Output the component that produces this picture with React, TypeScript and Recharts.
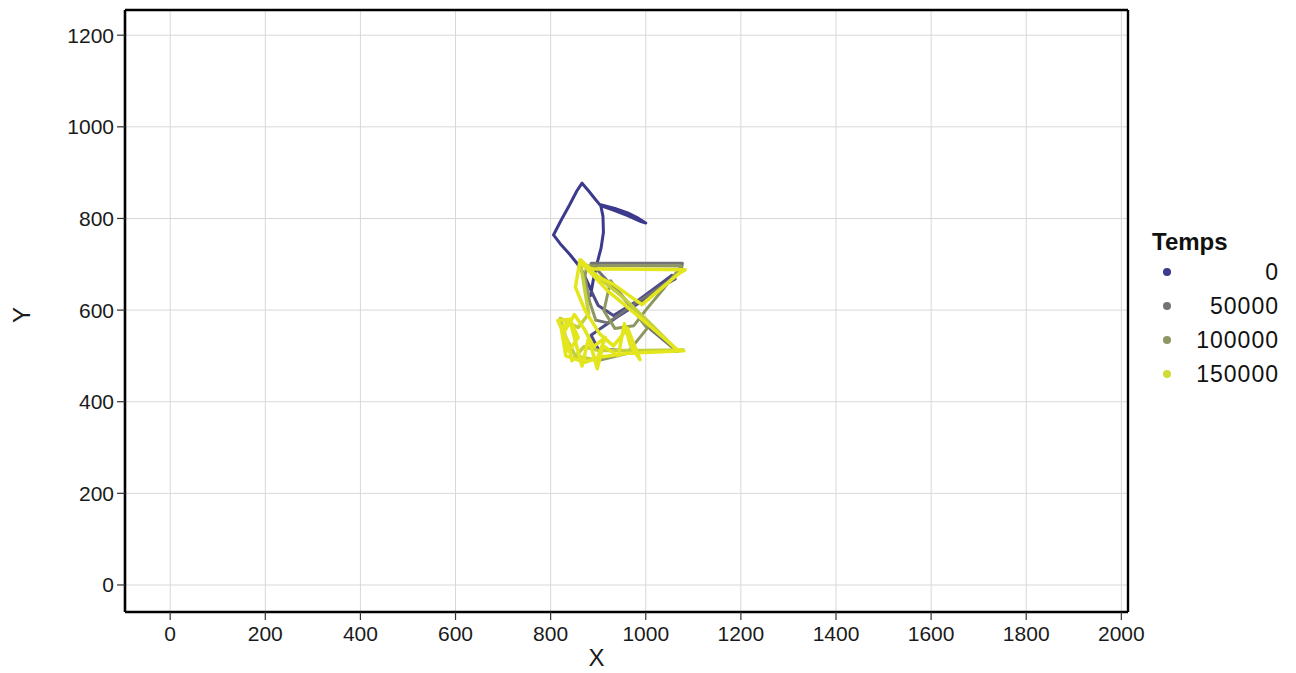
import React from 'react';
import { ComposedChart, Line, XAxis, YAxis, CartesianGrid } from 'recharts';

const xTicks = [0, 200, 400, 600, 800, 1000, 1200, 1400, 1600, 1800, 2000];
const yTicks = [0, 200, 400, 600, 800, 1000, 1200];
const xDomain: [number, number] = [-95, 2014];
const yDomain: [number, number] = [-59, 1255];

const tempsLabels = ['0', '50000', '100000', '150000'];
const tempsColors = ['#3d3b8c', '#737373', '#8d9763', '#cfdc35'];

const segmentColors = ['#3c3a8d', '#4d4c86', '#727276', '#8e975f', '#c3cf3c', '#e3e61c'];

const path0: [number, number][] = [
  [884, 632], [889, 662], [897, 700], [906, 735], [911, 770], [910, 805], [905, 830],
  [935, 822], [962, 812], [985, 800], [1000, 790], [990, 793], [962, 806], [932, 818], [905, 828],
  [893, 843], [880, 860], [866, 877], [855, 860], [840, 830], [822, 796], [806, 764], [820, 745],
  [840, 722], [857, 700], [870, 678], [880, 655], [886, 640],
];
const path1: [number, number][] = [
  [886, 640], [900, 610], [932, 588], [985, 622], [1037, 662], [1055, 676], [1062, 668], [1045, 658],
  [1000, 625], [940, 585], [905, 560], [885, 545], [900, 515], [960, 511], [1010, 510], [1066, 510],
];
const path2: [number, number][] = [
  [1066, 510], [1010, 558], [950, 630], [905, 680], [885, 702], [980, 702], [1077, 702],
  [1075, 690], [1060, 672], [1040, 657], [960, 602], [920, 572], [895, 578],
];
const path3: [number, number][] = [
  [895, 578], [882, 618], [872, 672], [876, 697], [980, 697], [1075, 696], [1040, 650], [1000, 600],
  [975, 566], [935, 560], [912, 598], [926, 664], [965, 612], [1003, 560], [960, 505], [900, 490],
];
const path4: [number, number][] = [
  [900, 490], [852, 500], [832, 540], [820, 582], [858, 562], [880, 592], [862, 708], [900, 672],
  [952, 628], [1010, 570], [1066, 512], [1079, 513], [990, 512], [900, 512], [870, 520], [845, 490],
];
const path5: [number, number][] = [
  [845, 490], [835, 532], [815, 577], [840, 580], [855, 520], [866, 478], [880, 540], [898, 472],
  [910, 522], [942, 500], [955, 570], [968, 522], [988, 492], [962, 560], [932, 522], [903, 548],
  [872, 600], [852, 650], [862, 710], [884, 690], [990, 689], [1083, 688], [1070, 680], [992, 612],
  [932, 656], [900, 672], [864, 704], [920, 642], [990, 582], [1066, 514], [1080, 511], [962, 506],
  [902, 497], [872, 486], [832, 500], [822, 562], [842, 576], [858, 540], [838, 510], [826, 548],
  [850, 590], [870, 560], [890, 520], [915, 540], [900, 500],
];

const segments = [path0, path1, path2, path3, path4, path5].map((p) => p.map(([x, y]) => ({ x, y })));

const FONT = '"Liberation Sans", Arial, Helvetica, sans-serif';

const LegendBox = () => (
  <div style={{ position: 'absolute', left: 1145, top: 230, fontFamily: FONT, width: 134, color: '#111' }}>
    <div style={{ fontWeight: 'bold', fontSize: 24, lineHeight: '24px', height: 24, paddingLeft: 7 }}>Temps</div>
    <div style={{ height: 1 }} />
    {tempsLabels.map((lab, i) => (
      <div key={lab} style={{ display: 'flex', alignItems: 'center', height: 34 }}>
        <div
          style={{
            marginLeft: 18,
            width: 8,
            height: 8,
            borderRadius: 4,
            background: tempsColors[i],
            flex: 'none',
          }}
        />
        <div style={{ flex: 1, textAlign: 'right', fontSize: 23, letterSpacing: 1, lineHeight: '34px' }}>{lab}</div>
      </div>
    ))}
  </div>
);

export default function App() {
  return (
    <div style={{ position: 'absolute', left: 0, top: 0, width: 1296, height: 673, background: '#fff' }}>
      <ComposedChart width={1296} height={673} margin={{ top: 9, right: 167, bottom: 0, left: 0 }}>
        <CartesianGrid stroke="#d8d8d8" strokeWidth={1} />
        <XAxis
          dataKey="x"
          type="number"
          domain={xDomain}
          allowDataOverflow
          ticks={xTicks}
          height={61}
          tickSize={8}
          tickMargin={6}
          tick={{ fill: '#1a1a1a', fontSize: 21, fontFamily: FONT }}
          tickLine={{ stroke: '#333', strokeWidth: 1.2 }}
          axisLine={{ stroke: '#000', strokeWidth: 2.6 }}
          label={{
            content: (props: any) => {
              const vb = props.viewBox;
              return (
                <text x={vb.x + vb.width * 0.47} y={vb.y + 54} textAnchor="middle" fontSize={24} fontFamily={FONT} fill="#1a1a1a">
                  X
                </text>
              );
            },
          }}
        />
        <XAxis
          xAxisId="top"
          orientation="top"
          type="number"
          dataKey="x"
          domain={xDomain}
          allowDataOverflow
          ticks={xTicks}
          height={1}
          tick={false}
          tickLine={false}
          axisLine={{ stroke: '#000', strokeWidth: 2.4 }}
        />
        <YAxis
          dataKey="y"
          type="number"
          domain={yDomain}
          allowDataOverflow
          ticks={yTicks}
          width={125}
          tickSize={8}
          tickMargin={3}
          tick={{ fill: '#1a1a1a', fontSize: 21, fontFamily: FONT }}
          tickLine={{ stroke: '#333', strokeWidth: 1.2 }}
          axisLine={{ stroke: '#000', strokeWidth: 2.6 }}
          label={{
            content: (props: any) => {
              const vb = props.viewBox;
              const cx = vb.x + 30;
              const cy = vb.y + vb.height / 2 + 4;
              return (
                <text x={cx} y={cy} transform={`rotate(-90, ${cx}, ${cy})`} textAnchor="middle" fontSize={24} fontFamily={FONT} fill="#1a1a1a">
                  Y
                </text>
              );
            },
          }}
        />
        <YAxis
          yAxisId="right"
          orientation="right"
          type="number"
          dataKey="y"
          domain={yDomain}
          allowDataOverflow
          ticks={yTicks}
          width={1}
          tick={false}
          tickLine={false}
          axisLine={{ stroke: '#000', strokeWidth: 2.4 }}
        />
        {segments.map((seg, i) => (
          <Line
            key={i}
            data={seg}
            dataKey="y"
            type="linear"
            stroke={segmentColors[i]}
            strokeWidth={i >= 4 ? 3.5 : 3}
            strokeLinejoin="round"
            strokeLinecap="round"
            dot={false}
            activeDot={false}
            isAnimationActive={false}
            legendType="none"
          />
        ))}
      </ComposedChart>
      <LegendBox />
    </div>
  );
}
